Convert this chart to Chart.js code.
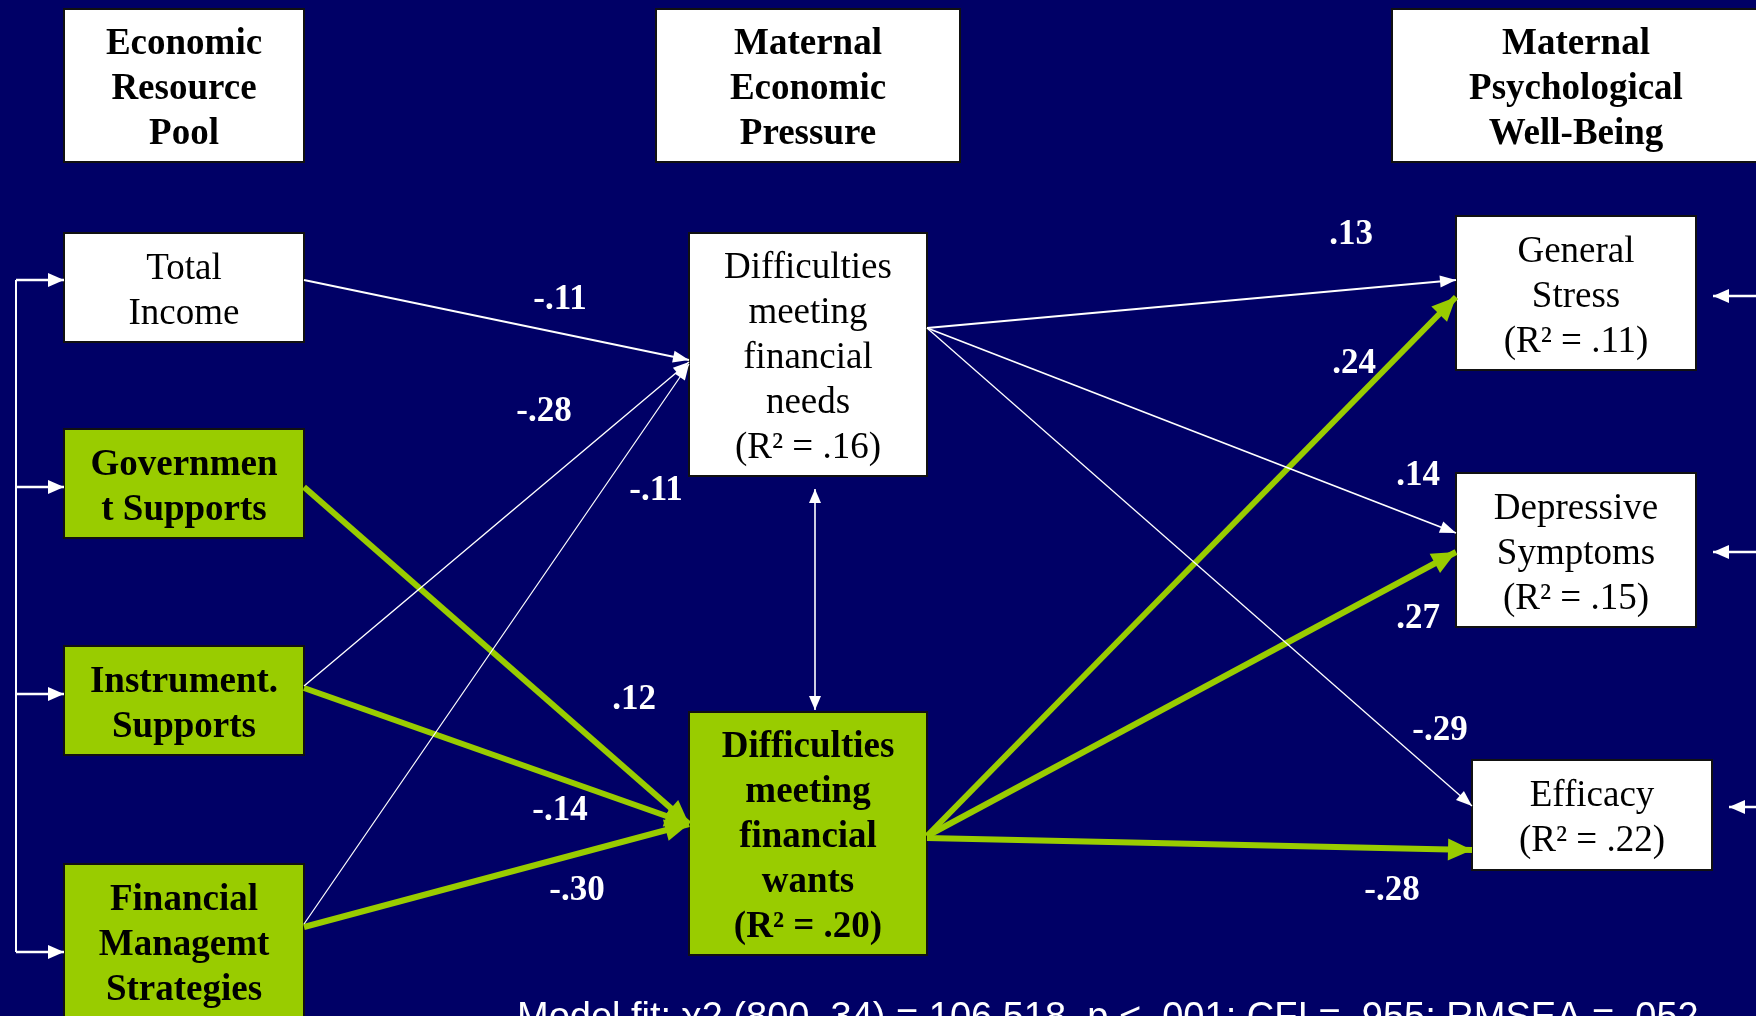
<!DOCTYPE html>
<html>
<head>
<meta charset="utf-8">
<script src="https://cdn.jsdelivr.net/npm/chart.js@4.4.1/dist/chart.umd.min.js"></script>
<style>
html,body{margin:0;padding:0;background:#000066;overflow:hidden}
#wrap{width:1756px;height:1016px;position:relative}
</style>
</head>
<body>
<div id="wrap"><canvas id="c"></canvas></div>
<script>
// ================= DATA =================
const nodeIds = ['hdrPool','hdrPressure','hdrWell','income','gov','instr','fin','needs','wants','stress','dep','eff'];
const nodeLabels = [
  ['Economic','Resource','Pool'],
  ['Maternal','Economic','Pressure'],
  ['Maternal','Psychological','Well-Being'],
  ['Total','Income'],
  ['Governmen','t Supports'],
  ['Instrument.','Supports'],
  ['Financial','Managemt','Strategies'],
  ['Difficulties','meeting','financial','needs','(R\u00B2 = .16)'],
  ['Difficulties','meeting','financial','wants','(R\u00B2 = .20)'],
  ['General','Stress','(R\u00B2 = .11)'],
  ['Depressive','Symptoms','(R\u00B2 = .15)'],
  ['Efficacy','(R\u00B2 = .22)']
];
const nodeKind = ['header','header','header','plain','key','key','key','plain','key','plain','plain','plain'];

const pathFrom = ['income','instr','fin','gov','instr','fin','needs','needs','needs','wants','wants','wants'];
const pathTo   = ['needs','needs','needs','wants','wants','wants','stress','dep','eff','stress','dep','eff'];
const pathCoef = ['-.11','-.28','-.11','.12','-.14','-.30','.13','.14','-.29','.24','.27','-.28'];
const pathSignificant = [false,false,false,true,true,true,false,false,false,true,true,true];

const exogenousNodes = ['income','gov','instr','fin'];
const residualNodes  = ['stress','dep','eff'];
const correlated     = ['needs','wants'];
const modelFit = 'Model fit: \u03C72 (800, 34) = 106.518, p < .001; CFI = .955; RMSEA = .052';

// ================= LAYOUT (positions / sizes) =================
const nodeBox = {            // x, y, w, h
  hdrPool:[64,9,240,153], hdrPressure:[656,9,304,153], hdrWell:[1392,9,368,153],
  income:[64,233,240,109], gov:[64,429,240,109], instr:[64,646,240,109], fin:[64,864,240,154],
  needs:[689,233,238,243], wants:[689,712,238,243],
  stress:[1456,216,240,154], dep:[1456,473,240,154], eff:[1472,760,240,110]
};
const pathFromY = [280,686,924,487,688,927,328,328,328,836,836,838];
const pathToY   = [360,362,364,824,824,824,280,533,806,297,552,850];
const pathWidth = [2,1.4,1.3,6,6,6,2.2,1.8,1.3,6,6,6];
const labelPos  = [[560,300],[544,412],[656,491],[634,700],[560,811],[577,891],[1351,235],[1418,476],[1440,731],[1354,364],[1418,619],[1392,891]];
const bracketX = 16;
const exogenousY = [280,487,694,952];
const residualY = [296,552,807];
const residualStartX = 1760;
const corrX = 815, corrY = [489,710];
const fitPos = [517,1029];

const NAVY = '#000066', GREEN = '#99CC00', WHITE = '#FFFFFF';
const SERIF = '"Liberation Serif","Times New Roman",serif';

// ================= DATASETS =================
const datasets = [];
const B = id => nodeBox[id];
pathFrom.forEach((f,i)=>{
  const a = B(f), b = B(pathTo[i]);
  const sig = pathSignificant[i];
  datasets.push({
    data:[{x:a[0]+a[2], y:pathFromY[i]}, {x:b[0], y:pathToY[i]}],
    borderColor: sig?GREEN:WHITE, borderWidth: pathWidth[i],
    arrowEnd: sig?[24,22]:[16,12], arrowColor: sig?GREEN:WHITE
  });
});
// bracket of exogenous correlations
datasets.push({data:[{x:bracketX,y:exogenousY[0]},{x:bracketX,y:exogenousY[exogenousY.length-1]}], borderColor:WHITE, borderWidth:2});
exogenousNodes.forEach((id,i)=>{
  datasets.push({data:[{x:bracketX,y:exogenousY[i]},{x:B(id)[0],y:exogenousY[i]}], borderColor:WHITE, borderWidth:2.5, arrowEnd:[16,14], arrowColor:WHITE});
});
// residual arrows
residualNodes.forEach((id,i)=>{
  const b = B(id);
  datasets.push({data:[{x:residualStartX,y:residualY[i]},{x:b[0]+b[2]+17,y:residualY[i]}], borderColor:WHITE, borderWidth:2.5, arrowEnd:[16,14], arrowColor:WHITE});
});
// correlation between the two pressure variables
datasets.push({data:[{x:corrX,y:corrY[0]},{x:corrX,y:corrY[1]}], borderColor:WHITE, borderWidth:1.6, arrowEnd:[14,12], arrowStart:[14,12], arrowColor:WHITE});

datasets.forEach(d=>{ d.showLine=true; d.pointRadius=0; d.pointHoverRadius=0; d.fill=false; d.tension=0; d.borderCapStyle='butt'; });

// ================= PLUGINS =================
const bgPlugin = {
  id:'bg',
  beforeDraw(chart){
    const c = chart.ctx; c.save(); c.fillStyle = NAVY; c.fillRect(0,0,chart.width,chart.height); c.restore();
  }
};
const boxPlugin = {
  id:'boxes',
  beforeDatasetsDraw(chart){
    const c = chart.ctx, sx = chart.scales.x, sy = chart.scales.y;
    c.save();
    nodeIds.forEach((id,i)=>{
      const b = nodeBox[id];
      const x0 = sx.getPixelForValue(b[0]), x1 = sx.getPixelForValue(b[0]+b[2]);
      const y0 = sy.getPixelForValue(b[1]), y1 = sy.getPixelForValue(b[1]+b[3]);
      c.fillStyle = nodeKind[i]==='key' ? GREEN : WHITE;
      c.fillRect(x0,y0,x1-x0,y1-y0);
      c.strokeStyle = '#111'; c.lineWidth = 2;
      c.strokeRect(x0,y0,x1-x0,y1-y0);
    });
    c.restore();
  },
  afterDatasetsDraw(chart){
    const c = chart.ctx, sx = chart.scales.x, sy = chart.scales.y;
    c.save();
    // arrowheads
    chart.data.datasets.forEach((ds,i)=>{
      const pts = chart.getDatasetMeta(i).data;
      if(!pts || pts.length<2) return;
      const head = (tip, prev, sz)=>{
        const ang = Math.atan2(tip.y-prev.y, tip.x-prev.x);
        const L = sz[0], W = sz[1]/2;
        c.beginPath();
        c.moveTo(tip.x, tip.y);
        c.lineTo(tip.x - L*Math.cos(ang) + W*Math.sin(ang), tip.y - L*Math.sin(ang) - W*Math.cos(ang));
        c.lineTo(tip.x - L*Math.cos(ang) - W*Math.sin(ang), tip.y - L*Math.sin(ang) + W*Math.cos(ang));
        c.closePath(); c.fillStyle = ds.arrowColor; c.fill();
      };
      if(ds.arrowEnd) head(pts[pts.length-1], pts[pts.length-2], ds.arrowEnd);
      if(ds.arrowStart) head(pts[0], pts[1], ds.arrowStart);
    });
    // node texts
    c.textAlign = 'center'; c.textBaseline = 'middle';
    nodeIds.forEach((id,i)=>{
      const b = nodeBox[id];
      const lines = nodeLabels[i];
      const bold = nodeKind[i] !== 'plain';
      c.font = (bold?'bold ':'') + '37px ' + SERIF;
      c.fillStyle = '#000';
      const cx = sx.getPixelForValue(b[0]+b[2]/2);
      const cy = sy.getPixelForValue(b[1]+b[3]/2);
      const lh = 45;
      lines.forEach((t,k)=>{
        c.fillText(t, cx, cy + (k-(lines.length-1)/2)*lh + 4);
      });
    });
    // path coefficients
    c.font = 'bold 35px ' + SERIF; c.fillStyle = WHITE;
    pathCoef.forEach((t,i)=>{
      c.fillText(t, sx.getPixelForValue(labelPos[i][0]), sy.getPixelForValue(labelPos[i][1]));
    });
    // model fit
    c.textAlign = 'left'; c.textBaseline = 'alphabetic';
    c.font = '38px "Liberation Sans", Arial, sans-serif';
    c.fillText(modelFit, sx.getPixelForValue(fitPos[0]), sy.getPixelForValue(fitPos[1]), 1185);
    c.restore();
  }
};

Chart.defaults.animation = false;
new Chart(document.getElementById('c'), {
  type:'scatter',
  data:{datasets},
  options:{
    responsive:true, maintainAspectRatio:false, animation:false,
    layout:{padding:0},
    events:[],
    plugins:{legend:{display:false}, tooltip:{enabled:false}},
    scales:{
      x:{type:'linear', min:0, max:1756, display:false},
      y:{type:'linear', min:0, max:1016, reverse:true, display:false}
    },
    clip:false
  },
  plugins:[bgPlugin, boxPlugin]
});
</script>
</body>
</html>
